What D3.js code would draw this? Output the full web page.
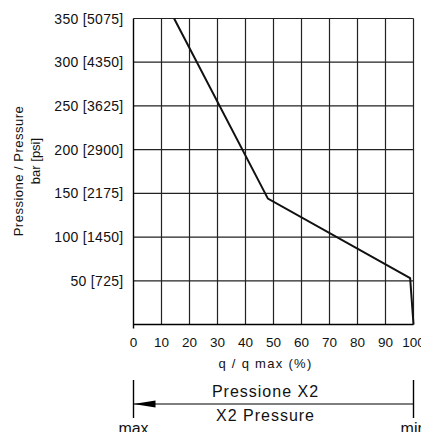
<!DOCTYPE html>
<html>
<head>
<meta charset="utf-8">
<script src="https://cdn.jsdelivr.net/npm/d3@7"></script>
<style>
  body { margin: 0; background: #fff; }
  svg text { font-family: "Liberation Sans", Arial, sans-serif; fill: #111; }
</style>
</head>
<body>
<div id="chart"></div>
<script>
// data
const flowPct = [14.5, 48, 98.8, 100];
const pressureBar = [350, 144, 53, 0];
const xTicks = [0, 10, 20, 30, 40, 50, 60, 70, 80, 90, 100];
const yTicks = [50, 100, 150, 200, 250, 300, 350];
const yTickLabels = ["50 [725]", "100 [1450]", "150 [2175]", "200 [2900]", "250 [3625]", "300 [4350]", "350 [5075]"];

const width = 421, height = 432;
const margin = { top: 18.5, right: 8, bottom: 107.5, left: 133.5 };

const svg = d3.select('#chart').append('svg')
    .attr('width', width)
    .attr('height', height);

const g = svg.append('g')
    .attr('transform', `translate(${margin.left},${margin.top})`);

const x = d3.scaleLinear().domain([0, 100]).range([0, 280]);
const y = d3.scaleLinear().domain([0, 350]).range([306, 0]);
const textX = x(50) - 8;

// grid
g.selectAll('.vgrid')
    .data(xTicks.filter(d => d > 0))
    .enter().append('line')
    .attr('x1', d => x(d)).attr('x2', d => x(d))
    .attr('y1', y(350)).attr('y2', y(0))
    .attr('stroke', '#222').attr('stroke-width', 1.2);

g.selectAll('.hgrid')
    .data(yTicks)
    .enter().append('line')
    .attr('x1', x(0)).attr('x2', x(100))
    .attr('y1', d => y(d)).attr('y2', d => y(d))
    .attr('stroke', '#222').attr('stroke-width', 1.2);

// axes lines
g.append('line').attr('x1', x(0)).attr('x2', x(0)).attr('y1', y(350)).attr('y2', y(0) + 4)
    .attr('stroke', '#000').attr('stroke-width', 1.4);
g.append('line').attr('x1', x(0)).attr('x2', x(100)).attr('y1', y(0)).attr('y2', y(0))
    .attr('stroke', '#000').attr('stroke-width', 1.4);

// y tick labels
g.selectAll('.ylab')
    .data(yTicks)
    .enter().append('text')
    .attr('x', -10)
    .attr('y', d => y(d))
    .attr('dy', '0.36em')
    .attr('text-anchor', 'end')
    .style('font-size', '14px')
    .style('letter-spacing', '0.3px')
    .text((d, i) => yTickLabels[i]);

// x tick labels
g.selectAll('.xlab')
    .data(xTicks)
    .enter().append('text')
    .attr('x', d => x(d))
    .attr('y', y(0) + 22)
    .attr('text-anchor', 'middle')
    .style('font-size', '13.5px')
    .text(d => d);

g.append('text')
    .attr('x', textX).attr('y', y(0) + 43)
    .attr('text-anchor', 'middle')
    .style('font-size', '13px')
    .style('letter-spacing', '1.3px')
    .text('q / q max (%)');

// y title
svg.append('text')
    .attr('transform', 'translate(23,171) rotate(-90)')
    .attr('text-anchor', 'middle')
    .style('font-size', '13px')
    .style('letter-spacing', '0.5px')
    .text('Pressione / Pressure');
svg.append('text')
    .attr('transform', 'translate(40,161) rotate(-90)')
    .attr('text-anchor', 'middle')
    .style('font-size', '13px')
    .text('bar [psi]');

// curve
const pts = flowPct.map((q, i) => [q, pressureBar[i]]);
g.append('path')
    .datum(pts)
    .attr('d', d3.line().x(d => x(d[0])).y(d => y(d[1])))
    .attr('fill', 'none')
    .attr('stroke', '#111')
    .attr('stroke-width', 2);

// pressure arrow section
const ay = 404 - margin.top;
g.append('line').attr('x1', x(0)).attr('x2', x(0)).attr('y1', 380 - margin.top).attr('y2', 418 - margin.top)
    .attr('stroke', '#000').attr('stroke-width', 1.4);
g.append('line').attr('x1', x(100)).attr('x2', x(100)).attr('y1', 380 - margin.top).attr('y2', 418 - margin.top)
    .attr('stroke', '#000').attr('stroke-width', 1.4);
g.append('line').attr('x1', x(0)).attr('x2', x(100)).attr('y1', ay).attr('y2', ay)
    .attr('stroke', '#000').attr('stroke-width', 1.2);
g.append('path')
    .attr('d', `M${x(0)},${ay} L${x(0) + 22},${ay - 3.5} L${x(0) + 22},${ay + 3.5} Z`)
    .attr('fill', '#000');

g.append('text')
    .attr('x', textX).attr('y', 397 - margin.top)
    .attr('text-anchor', 'middle')
    .style('font-size', '16px')
    .style('letter-spacing', '1px')
    .text('Pressione X2');
g.append('text')
    .attr('x', textX).attr('y', 421 - margin.top)
    .attr('text-anchor', 'middle')
    .style('font-size', '16px')
    .style('letter-spacing', '1px')
    .text('X2 Pressure');
g.append('text')
    .attr('x', x(0)).attr('y', 434 - margin.top)
    .attr('text-anchor', 'middle')
    .style('font-size', '16px')
    .text('max');
g.append('text')
    .attr('x', x(100)).attr('y', 434 - margin.top)
    .attr('text-anchor', 'middle')
    .style('font-size', '16px')
    .text('min');
</script>
</body>
</html>
